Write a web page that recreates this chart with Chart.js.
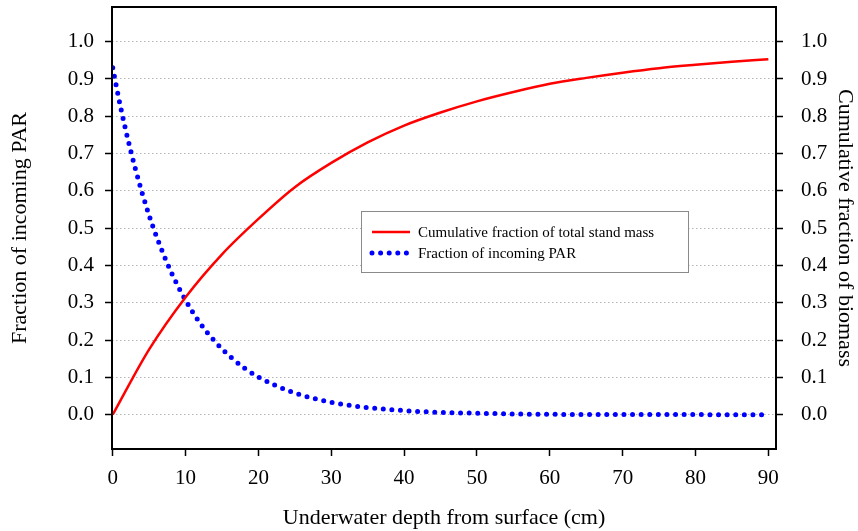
<!DOCTYPE html>
<html>
<head>
<meta charset="utf-8">
<title>PAR and biomass with depth</title>
<script src="https://cdn.jsdelivr.net/npm/chart.js@4.4.1/dist/chart.umd.min.js"></script>
<style>
  html, body { margin: 0; padding: 0; background: #fff; }
  #wrap { width: 858px; height: 531px; }
</style>
</head>
<body>
<div id="wrap"><canvas id="chart" width="858" height="531"></canvas></div>
<script>
// values
var massDepth = [0, 5, 10, 15, 20, 25, 30, 35, 40, 45, 50, 55, 60, 65, 70, 75, 80, 85, 90];
var massFraction = [0, 0.175, 0.315, 0.43, 0.525, 0.61, 0.675, 0.73, 0.775, 0.81, 0.84, 0.865, 0.887, 0.903, 0.917, 0.929, 0.938, 0.946, 0.953];

var parDepth = [0, 1, 2, 3, 4, 5, 6, 8, 10, 12, 14, 16, 18, 20, 22.5, 25, 27.5, 30, 35, 40, 45, 50, 55, 60, 70, 80, 89.5];
var parFraction = [0.93, 0.832, 0.745, 0.667, 0.597, 0.534, 0.478, 0.383, 0.307, 0.245, 0.197, 0.158, 0.126, 0.101, 0.077, 0.058, 0.044, 0.033, 0.019, 0.011, 0.006, 0.004, 0.002, 0.001, 0.0005, 0.0002, 0];

var xTicks = [0, 10, 20, 30, 40, 50, 60, 70, 80, 90];
var yTicks = [0, 0.1, 0.2, 0.3, 0.4, 0.5, 0.6, 0.7, 0.8, 0.9, 1.0];

var serif = '"Liberation Serif", "Times New Roman", serif';

function toPoints(xs, ys) {
    return xs.map(function (x, i) { return {x: x, y: ys[i]}; });
}

function setTicks(list) {
    return function (scale) {
        scale.ticks = list.map(function (v) { return {value: v}; });
    };
}

// fixed axis sizes, no extra label padding
function fitWidth(w) {
    return function (scale) {
        scale.width = w;
        scale.paddingTop = 0;
        scale.paddingBottom = 0;
    };
}

// black frame round the plot area
var framePlugin = {
    id: 'frame',
    afterDatasetsDraw: function (chart) {
        var a = chart.chartArea, ctx = chart.ctx;
        ctx.save();
        ctx.strokeStyle = '#000';
        ctx.lineWidth = 2;
        ctx.strokeRect(a.left, a.top, a.right - a.left, a.bottom - a.top);
        ctx.restore();
    }
};

// boxed legend inside the plot
var legendPlugin = {
    id: 'boxLegend',
    afterDraw: function (chart) {
        var a = chart.chartArea, ctx = chart.ctx;
        var bx = a.left + 249, by = a.top + 204, bw = 327, bh = 61;
        ctx.save();
        ctx.fillStyle = '#fff';
        ctx.fillRect(bx, by, bw, bh);
        ctx.strokeStyle = '#8a8a8a';
        ctx.lineWidth = 1;
        ctx.strokeRect(bx + 0.5, by + 0.5, bw, bh);

        ctx.font = '15px ' + serif;
        ctx.textBaseline = 'middle';
        ctx.textAlign = 'left';
        chart.data.datasets.forEach(function (ds, i) {
            var y = by + 21 + i * 21;
            ctx.save();
            ctx.strokeStyle = ds.borderColor;
            ctx.lineWidth = ds.borderWidth;
            ctx.lineCap = ds.borderCapStyle || 'butt';
            ctx.setLineDash(ds.borderDash || []);
            ctx.beginPath();
            ctx.moveTo(bx + 11, y);
            ctx.lineTo(bx + 49, y);
            ctx.stroke();
            ctx.restore();
            ctx.fillStyle = '#000';
            ctx.fillText(ds.label, bx + 57, y + 1);
        });
        ctx.restore();
    }
};

var ctx = document.getElementById('chart');
var chart = new Chart(ctx, {
    type: 'line',
    data: {
        datasets: [{
            label: 'Cumulative fraction of total stand mass',
            data: toPoints(massDepth, massFraction),
            borderColor: '#ff0000',
            borderWidth: 2.5,
            pointRadius: 0,
            cubicInterpolationMode: 'monotone',
            yAxisID: 'y2'
        }, {
            label: 'Fraction of incoming PAR',
            data: toPoints(parDepth, parFraction),
            borderColor: '#0000ff',
            borderWidth: 5,
            borderDash: [0, 8.6],
            borderCapStyle: 'round',
            pointRadius: 0,
            cubicInterpolationMode: 'monotone',
            yAxisID: 'y'
        }]
    },
    options: {
        responsive: false,
        animation: false,
        devicePixelRatio: 1,
        layout: {padding: {top: 7, left: 0, right: 0, bottom: 0}},
        plugins: {
            legend: {display: false},
            tooltip: {enabled: false}
        },
        scales: {
            x: {
                type: 'linear',
                min: -0.1,
                max: 91.05,
                afterBuildTicks: setTicks(xTicks),
                afterFit: function (scale) {
                    scale.height = 82;
                    scale.paddingLeft = 0;
                    scale.paddingRight = 0;
                },
                grid: {drawOnChartArea: false, tickLength: 7, tickColor: '#000', tickWidth: 1.5},
                border: {display: false},
                ticks: {
                    color: '#000',
                    padding: 10,
                    maxRotation: 0,
                    font: {family: serif, size: 21},
                    callback: function (v) { return String(v); }
                },
                title: {
                    display: true,
                    text: 'Underwater depth from surface (cm)',
                    color: '#000',
                    font: {family: serif, size: 22},
                    padding: {top: 0, bottom: 0}
                }
            },
            y: {
                position: 'left',
                min: -0.092,
                max: 1.093,
                afterBuildTicks: setTicks(yTicks),
                afterFit: fitWidth(112),
                grid: {color: '#b4b4b4', lineWidth: 1, tickLength: 7, tickColor: '#000', tickWidth: 1.5},
                border: {display: false, dash: [1.5, 2.5]},
                ticks: {
                    color: '#000',
                    padding: 11,
                    font: {family: serif, size: 21},
                    callback: function (v) { return v.toFixed(1); }
                },
                title: {
                    display: true,
                    text: 'Fraction of incoming PAR',
                    color: '#000',
                    font: {family: serif, size: 22},
                    padding: {top: 7, bottom: 0}
                }
            },
            y2: {
                position: 'right',
                min: -0.092,
                max: 1.093,
                afterBuildTicks: setTicks(yTicks),
                afterFit: fitWidth(82),
                grid: {drawOnChartArea: false, tickLength: 7, tickColor: '#000', tickWidth: 1.5},
                border: {display: false},
                ticks: {
                    color: '#000',
                    padding: 18,
                    font: {family: serif, size: 21},
                    callback: function (v) { return v.toFixed(1); }
                },
                title: {
                    display: true,
                    text: 'Cumulative fraction of biomass',
                    color: '#000',
                    font: {family: serif, size: 22},
                    padding: {top: 0, bottom: 0}
                }
            }
        }
    },
    plugins: [framePlugin, legendPlugin]
});
</script>
</body>
</html>
